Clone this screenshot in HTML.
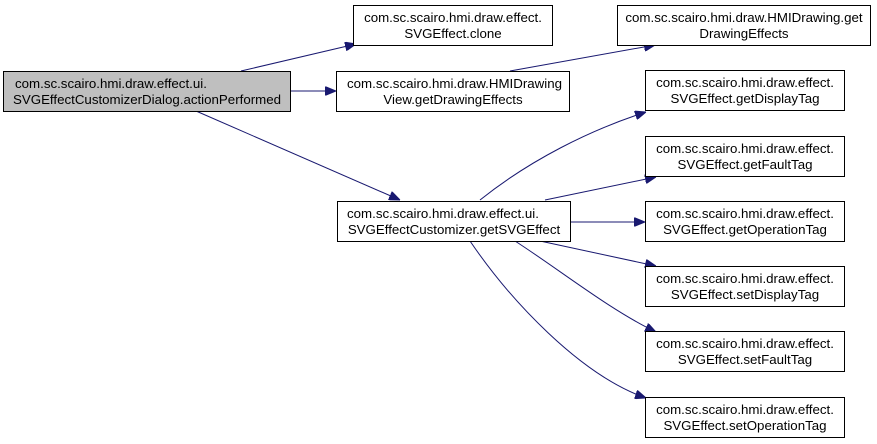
<!DOCTYPE html>
<html><head><meta charset="utf-8"><style>
html,body{margin:0;padding:0;background:#fff;}
svg{display:block;}
text{font-family:"Liberation Sans",Arial,sans-serif;font-size:13.3px;fill:#000;}
</style></head><body>
<svg width="877" height="444" viewBox="0 0 877 444" xmlns="http://www.w3.org/2000/svg">
<defs><marker id="a" markerWidth="11" markerHeight="9" refX="11" refY="4.5" orient="auto" markerUnits="userSpaceOnUse"><path d="M0,0 L11,4.5 L0,9 z" fill="#191970" stroke="#191970"/></marker></defs>
<g stroke="#191970" stroke-width="1" fill="none" marker-end="url(#a)">
<path d="M241,71 L356,44"/>
<path d="M290,91 L336,91"/>
<path d="M196,111 L400,200"/>
<path d="M510,71 L655,45"/>
<path d="M480,200 C530,160 590,130 646,112"/>
<path d="M545,200 L656,177"/>
<path d="M570,222 L645,222"/>
<path d="M540,241 L656,266"/>
<path d="M515,241 C560,270 610,310 656,332"/>
<path d="M470,241 C510,300 580,375 646,398"/>
</g>
<g stroke="#000" stroke-width="1">
<rect x="3.5" y="71.5" width="287" height="40" fill="#bfbfbf"/>
<rect x="353.5" y="5.5" width="199" height="40" fill="#fff"/>
<rect x="336.5" y="71.5" width="233" height="40" fill="#fff"/>
<rect x="337.5" y="201.5" width="233" height="40" fill="#fff"/>
<rect x="617.5" y="5.5" width="253" height="40" fill="#fff"/>
<rect x="645.5" y="70.5" width="199" height="40" fill="#fff"/>
<rect x="645.5" y="136.5" width="199" height="40" fill="#fff"/>
<rect x="645.5" y="201.5" width="199" height="40" fill="#fff"/>
<rect x="645.5" y="266.5" width="199" height="40" fill="#fff"/>
<rect x="645.5" y="331.5" width="199" height="40" fill="#fff"/>
<rect x="645.5" y="397.5" width="199" height="40" fill="#fff"/>
</g>
<text x="15" y="88">com.sc.scairo.hmi.draw.effect.ui.</text>
<text x="147" y="104" text-anchor="middle">SVGEffectCustomizerDialog.actionPerformed</text>
<text x="453" y="22" text-anchor="middle">com.sc.scairo.hmi.draw.effect.</text>
<text x="453" y="38" text-anchor="middle">SVGEffect.clone</text>
<text x="347" y="88">com.sc.scairo.hmi.draw.HMIDrawing</text>
<text x="453" y="104" text-anchor="middle">View.getDrawingEffects</text>
<text x="347" y="218">com.sc.scairo.hmi.draw.effect.ui.</text>
<text x="454" y="234" text-anchor="middle">SVGEffectCustomizer.getSVGEffect</text>
<text x="744" y="22" text-anchor="middle">com.sc.scairo.hmi.draw.HMIDrawing.get</text>
<text x="744" y="38" text-anchor="middle">DrawingEffects</text>
<g text-anchor="middle">
<text x="745" y="87">com.sc.scairo.hmi.draw.effect.</text><text x="745" y="103">SVGEffect.getDisplayTag</text>
<text x="745" y="153">com.sc.scairo.hmi.draw.effect.</text><text x="745" y="169">SVGEffect.getFaultTag</text>
<text x="745" y="218">com.sc.scairo.hmi.draw.effect.</text><text x="745" y="234">SVGEffect.getOperationTag</text>
<text x="745" y="283">com.sc.scairo.hmi.draw.effect.</text><text x="745" y="299">SVGEffect.setDisplayTag</text>
<text x="745" y="348">com.sc.scairo.hmi.draw.effect.</text><text x="745" y="364">SVGEffect.setFaultTag</text>
<text x="745" y="414">com.sc.scairo.hmi.draw.effect.</text><text x="745" y="430">SVGEffect.setOperationTag</text>
</g>
</svg>
</body></html>
